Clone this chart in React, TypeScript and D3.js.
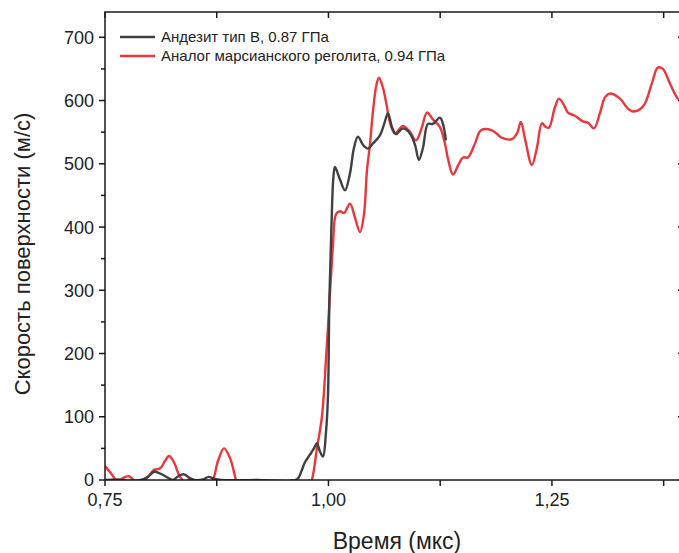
import React from "react";
import * as d3 from "d3";

const redTime = [0.75, 0.757, 0.7645, 0.77, 0.7768, 0.7836, 0.7914, 0.7981, 0.8048, 0.8115, 0.8171, 0.8216, 0.8272, 0.8339, 0.8406, 0.845, 0.8518, 0.8619, 0.8697, 0.8764, 0.8831, 0.8898, 0.8965, 0.901, 0.9234, 0.957, 0.9737, 0.9815, 0.9871, 0.9927, 0.9972, 1.0017, 1.005, 1.0084, 1.0129, 1.0174, 1.0241, 1.0296, 1.0353, 1.0397, 1.0431, 1.0464, 1.0498, 1.0537, 1.0565, 1.061, 1.0654, 1.0688, 1.0744, 1.0833, 1.0912, 1.0979, 1.1046, 1.1102, 1.1169, 1.1247, 1.1303, 1.1337, 1.1393, 1.1449, 1.1505, 1.156, 1.1639, 1.1706, 1.1829, 1.1941, 1.2053, 1.2109, 1.2153, 1.2198, 1.2276, 1.2333, 1.2388, 1.2433, 1.2466, 1.2533, 1.2578, 1.2623, 1.2679, 1.2757, 1.2847, 1.2903, 1.297, 1.3037, 1.3093, 1.3149, 1.3261, 1.3339, 1.3395, 1.3484, 1.354, 1.3618, 1.3685, 1.3741, 1.382, 1.3898, 1.4];
const redVel = [22, 10, -3, 3, 6, -2, -5, 5, 16, 18, 30, 38, 28, 5, -3, 2, -5, -10, -3, 30, 50, 35, 0, -20, -40, -60, -30, 0, 50, 100, 190, 295, 370, 420, 425, 422, 437, 415, 392, 420, 490, 530, 583, 625, 636, 620, 590, 565, 548, 560, 550, 537, 558, 581, 570, 558, 532, 508, 483, 497, 510, 510, 532, 553, 553, 541, 539, 548, 566, 540, 498, 526, 564, 558, 557, 589, 603, 596, 581, 576, 567, 565, 556, 580, 605, 611, 603, 589, 583, 586, 595, 627, 652, 650, 627, 605, 590];

const grayTime = [0.75, 0.765, 0.775, 0.79, 0.798, 0.805, 0.812, 0.82, 0.826, 0.832, 0.838, 0.845, 0.85, 0.86, 0.866, 0.872, 0.88, 0.92, 0.9648, 0.9692, 0.9737, 0.9793, 0.9838, 0.9871, 0.9905, 0.9939, 0.9972, 0.9994, 1.0011, 1.0033, 1.0056, 1.0073, 1.0129, 1.0185, 1.0241, 1.0285, 1.033, 1.0386, 1.0442, 1.0498, 1.0576, 1.0621, 1.0666, 1.0711, 1.0755, 1.0833, 1.0912, 1.0968, 1.1012, 1.1057, 1.1113, 1.1169, 1.1247, 1.1281, 1.1314];
const grayVel = [0, 1, -1, 0, 5, 13, 10, 4, 0, 6, 9, 3, 0, 1, 5, 2, 0, 0, 1, 12, 28, 40, 50, 58, 45, 37, 75, 130, 290, 400, 480, 495, 475, 458, 485, 525, 543, 530, 524, 532, 545, 562, 580, 558, 547, 556, 548, 530, 506, 525, 563, 563, 573, 563, 537];

const xMajorTicks = [0.75, 1.0, 1.25];
const xMinorTicks = [0.875, 1.125, 1.375];
const yMajorTicks = [0, 100, 200, 300, 400, 500, 600, 700];
const yMinorTicks = [50, 150, 250, 350, 450, 550, 650];
const seriesNames = ["Андезит тип B, 0.87 ГПа", "Аналог марсианского реголита, 0.94 ГПа"];
const seriesColors = ["#404040", "#e8383d"];

export default function App() {
  const L = 105, R = 686, T = 12, B = 480;
  const x = d3.scaleLinear().domain([0.75, 1.4]).range([L, R]);
  const y = d3.scaleLinear().domain([0, 740]).range([B, T]);
  const line = d3
    .line<[number, number]>()
    .x((d) => x(d[0]))
    .y((d) => y(d[1]))
    .curve(d3.curveCatmullRom.alpha(0.5));
  const gray = grayTime.map((t, i) => [t, grayVel[i]] as [number, number]);
  const red = redTime.map((t, i) => [t, redVel[i]] as [number, number]);
  const font = "'Liberation Sans', Arial, sans-serif";
  const fmt = (v: number) => v.toFixed(2).replace(".", ",");
  return (
    <svg width={679} height={553} style={{ position: "absolute", left: 0, top: 0, background: "#fff" }} fontFamily={font}>
      <defs>
        <clipPath id="plotclip">
          <rect x={L} y={T} width={R - L} height={B - T} />
        </clipPath>
      </defs>
      <g clipPath="url(#plotclip)" fill="none" strokeWidth={2.4} strokeLinejoin="round">
        <path d={line(red) || ""} stroke={seriesColors[1]} />
        <path d={line(gray) || ""} stroke={seriesColors[0]} />
      </g>
      {/* frame */}
      <rect x={L} y={T} width={R - L} height={B - T} fill="none" stroke="#1a1a1a" strokeWidth={1.5} />
      {/* x ticks */}
      {[...xMajorTicks, ...xMinorTicks].map((t) => (
        <g key={"xt" + t}>
          <line x1={x(t)} x2={x(t)} y1={B} y2={B + 6} stroke="#1a1a1a" strokeWidth={1.5} />
          <line x1={x(t)} x2={x(t)} y1={T} y2={T + 6} stroke="#1a1a1a" strokeWidth={1.5} />
        </g>
      ))}
      {xMajorTicks.map((t) => (
        <text key={"xl" + t} x={x(t)} y={506} fontSize={18} textAnchor="middle" fill="#222">
          {fmt(t)}
        </text>
      ))}
      {/* y ticks */}
      {yMajorTicks.map((v) => (
        <g key={"yt" + v}>
          <line x1={L - 6} x2={L} y1={y(v)} y2={y(v)} stroke="#1a1a1a" strokeWidth={1.5} />
          <line x1={R - 8} x2={R} y1={y(v)} y2={y(v)} stroke="#1a1a1a" strokeWidth={1.5} />
          <text x={L - 11} y={y(v)} dy="0.36em" fontSize={18} textAnchor="end" fill="#222">
            {v}
          </text>
        </g>
      ))}
      {yMinorTicks.map((v) => (
        <g key={"ym" + v}>
          <line x1={L - 4} x2={L} y1={y(v)} y2={y(v)} stroke="#1a1a1a" strokeWidth={1.5} />
          <line x1={R - 4} x2={R} y1={y(v)} y2={y(v)} stroke="#1a1a1a" strokeWidth={1.5} />
        </g>
      ))}
      {/* axis titles */}
      <text x={397} y={549} fontSize={23} textAnchor="middle" fill="#222">
        Время (мкс)
      </text>
      <text transform={`translate(30, ${(T + B) / 2 + 8}) rotate(-90)`} fontSize={22} textAnchor="middle" fill="#222">
        Скорость поверхности (м/с)
      </text>
      {/* legend */}
      {seriesNames.map((n, i) => (
        <g key={n} transform={`translate(120, ${37 + i * 19})`}>
          <line x1={0} x2={35} y1={0} y2={0} stroke={seriesColors[i]} strokeWidth={2.4} />
          <text x={41} y={0} dy="0.35em" fontSize={15} fill="#222">
            {n}
          </text>
        </g>
      ))}
    </svg>
  );
}
